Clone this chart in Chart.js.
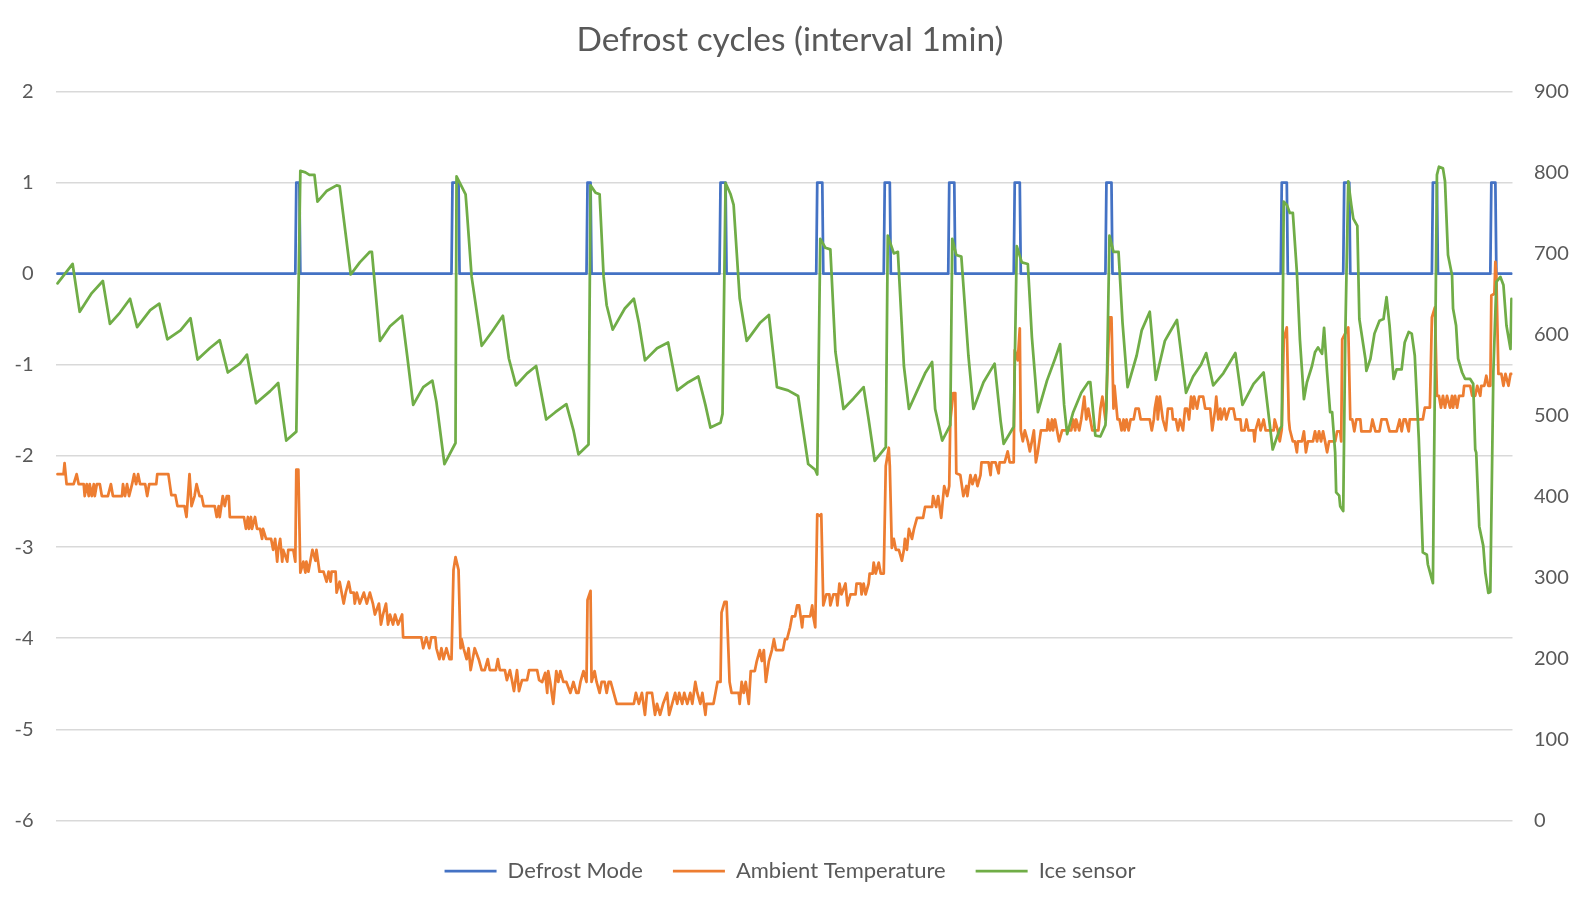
<!DOCTYPE html>
<html>
<head>
<meta charset="utf-8">
<title>Defrost cycles</title>
<script src="https://cdn.jsdelivr.net/npm/chart.js@4.4.0/dist/chart.umd.min.js"></script>
<style>
  html, body { margin: 0; padding: 0; background: #fff; }
  #wrap { width: 1580px; height: 906px; }
</style>
</head>
<body>
<div id="wrap"><canvas id="chart" width="1580" height="906"></canvas></div>
<script>
// minutes since start of the log
const defrostMin = [0, 236, 237, 240, 241, 391, 392, 398, 399, 525, 526, 529, 530, 657, 658, 663, 664,
  753, 754, 759, 760, 820, 821, 826, 827, 884, 885, 890, 891, 949, 950, 955, 956, 1040, 1041, 1046, 1047,
  1214, 1215, 1220, 1221, 1276, 1277, 1282, 1283, 1364, 1365, 1369, 1370, 1422, 1423, 1427, 1428, 1443];
const defrostMode = [0, 0, 1, 1, 0, 0, 1, 1, 0, 0, 1, 1, 0, 0, 1, 1, 0,
  0, 1, 1, 0, 0, 1, 1, 0, 0, 1, 1, 0, 0, 1, 1, 0, 0, 1, 1, 0,
  0, 1, 1, 0, 0, 1, 1, 0, 0, 1, 1, 0, 0, 1, 1, 0, 0];

const ambientMin = [0, 6, 7, 9, 16, 19, 21, 26, 27, 29, 31, 32, 34, 36, 37, 39, 42, 44, 50, 53, 55, 64, 65, 67, 69, 71, 74, 76, 78, 80,
  82, 87, 89, 91, 98, 99, 110, 113, 117, 119, 126, 128, 131, 133, 136, 138, 141, 143, 145, 156, 158, 160, 161, 164, 166, 168, 170, 171, 185, 187,
  189, 190, 192, 193, 196, 198, 201, 203, 204, 207, 212, 214, 216, 218, 219, 221, 223, 224, 228, 229, 234, 236, 237, 239, 241, 244, 246, 247, 249, 251,
  253, 256, 257, 260, 264, 267, 269, 271, 272, 276, 277, 280, 282, 284, 286, 289, 291, 294, 295, 297, 300, 304, 307, 310, 313, 315, 319, 321, 323, 326,
  328, 330, 333, 335, 338, 342, 343, 361, 363, 366, 369, 371, 375, 376, 379, 381, 383, 386, 389, 391, 393, 395, 398, 400, 401, 403, 406, 408, 410, 412,
  414, 418, 421, 424, 427, 429, 435, 437, 439, 444, 446, 449, 451, 453, 456, 458, 461, 466, 468, 476, 478,
  481, 484, 486, 487, 489, 492, 495, 497, 499, 502, 505, 509, 512, 515, 517, 519, 522, 525, 526, 529, 530, 533, 535, 538, 540, 543, 545, 547, 549, 552,
  555, 572, 574, 577, 580, 583, 585, 590, 593, 595, 598, 601, 605, 607, 610, 613, 615, 617, 620, 622, 625, 628, 630, 633, 635, 638, 640, 643, 644, 651,
  653, 655, 658, 659, 662, 664, 667, 669, 676, 677, 679, 681, 683, 686, 688, 692, 694, 697, 699, 701, 703, 706, 709, 711, 713, 716, 720, 722, 724, 727,
  729, 732, 734, 736, 739, 740, 747, 749, 750, 752, 754, 757, 758, 760, 763, 766, 767, 770, 773, 774, 776, 778, 782, 784, 787, 792, 793, 797, 798, 800,
  802, 805, 806, 809, 810, 812, 815, 817, 820, 822, 825, 826, 828, 830, 832, 835, 838, 840, 841, 843, 845, 848, 850, 853, 859, 861, 868, 869, 872, 874,
  877, 879, 880, 883, 885, 886, 889, 891, 892, 896, 899, 902, 903, 906, 908, 911, 913, 916, 917, 924, 926, 927, 931, 934, 935, 940, 943, 945, 949, 950,
  953, 955, 956, 958, 960, 963, 965, 967, 969, 971, 973, 976,
  978, 982, 983, 985, 987, 988, 990, 992, 994, 997, 1006, 1008, 1010, 1011, 1014, 1016, 1019, 1021, 1023, 1025, 1027, 1033, 1035, 1037, 1040, 1041, 1044, 1046, 1048, 1049,
  1052, 1054, 1056, 1058, 1059, 1061, 1063, 1065, 1068, 1070, 1073, 1075, 1084, 1086, 1088, 1089, 1091, 1092, 1094, 1097, 1100, 1102, 1106, 1107, 1110, 1112, 1114, 1117, 1119, 1121,
  1123, 1125, 1127, 1128, 1131, 1133, 1137, 1139, 1144, 1146, 1149, 1150, 1152, 1154, 1155, 1158, 1160, 1163, 1167, 1169, 1174, 1175, 1178, 1180, 1182, 1187, 1188, 1189, 1192, 1194,
  1197, 1199, 1207, 1208, 1211, 1213,
  1215, 1217, 1220, 1222, 1223, 1226, 1228, 1230, 1231, 1235, 1237, 1239, 1241, 1246, 1248, 1250, 1252, 1254, 1256, 1258, 1260, 1262, 1268, 1270, 1273, 1274, 1275, 1281, 1283, 1285,
  1287, 1289, 1293, 1294, 1303, 1305, 1308, 1312, 1314, 1319, 1322, 1329, 1332, 1334, 1336, 1338, 1341, 1342, 1355, 1357, 1362, 1364, 1367, 1369, 1371, 1373, 1375, 1377, 1379, 1382,
  1384, 1385, 1387, 1389, 1391, 1395, 1396, 1402, 1404, 1407, 1409, 1412, 1413, 1416, 1418, 1420, 1422, 1423, 1426, 1427, 1428, 1430, 1433, 1435, 1437, 1440, 1442, 1443];
const ambientTemp = [-2.2, -2.2, -2.08, -2.31, -2.31, -2.2, -2.31, -2.31, -2.44, -2.31, -2.44, -2.31, -2.44, -2.31, -2.44, -2.31, -2.31, -2.44, -2.44, -2.31, -2.44, -2.44, -2.31, -2.44, -2.31, -2.44, -2.31, -2.2, -2.31, -2.2,
  -2.31, -2.31, -2.44, -2.31, -2.31, -2.2, -2.2, -2.43, -2.43, -2.55, -2.55, -2.67, -2.2, -2.55, -2.44, -2.31, -2.44, -2.44, -2.55, -2.55, -2.67, -2.55, -2.67, -2.44, -2.55, -2.44, -2.44, -2.67, -2.67, -2.8,
  -2.67, -2.8, -2.67, -2.8, -2.67, -2.8, -2.8, -2.91, -2.8, -2.91, -2.91, -3.03, -2.91, -3.16, -3.03, -2.91, -3.16, -3.03, -3.16, -3.03, -3.03, -3.16, -2.15, -2.15, -3.28, -3.16, -3.28, -3.16, -3.27, -3.15,
  -3.03, -3.15, -3.03, -3.27, -3.27, -3.38, -3.27, -3.38, -3.27, -3.27, -3.5, -3.38, -3.5, -3.62, -3.5, -3.38, -3.5, -3.5, -3.62, -3.5, -3.62, -3.5, -3.62, -3.5, -3.62, -3.74, -3.62, -3.85, -3.74, -3.62,
  -3.85, -3.74, -3.85, -3.74, -3.85, -3.74, -3.99, -3.99, -4.11, -3.99, -4.11, -3.99, -3.99, -4.11, -4.23, -4.11, -4.23, -4.11, -4.23, -4.23, -3.25, -3.11, -3.25, -4.11, -4.01, -4.11, -4.23, -4.11, -4.35, -4.23,
  -4.11, -4.23, -4.35, -4.35, -4.23, -4.35, -4.35, -4.23, -4.35, -4.35, -4.46, -4.35, -4.46, -4.58, -4.35, -4.58, -4.46, -4.46, -4.35, -4.35, -4.46,
  -4.48, -4.38, -4.6, -4.36, -4.48, -4.72, -4.36, -4.48, -4.36, -4.48, -4.48, -4.6, -4.48, -4.6, -4.6, -4.48, -4.36, -4.48, -3.58, -3.48, -4.48, -4.36, -4.48, -4.6, -4.48, -4.48, -4.6, -4.48, -4.48, -4.6,
  -4.72, -4.72, -4.6, -4.72, -4.6, -4.84, -4.6, -4.6, -4.84, -4.72, -4.84, -4.72, -4.6, -4.84, -4.72, -4.6, -4.72, -4.6, -4.72, -4.6, -4.72, -4.6, -4.72, -4.48, -4.6, -4.72, -4.6, -4.84, -4.72, -4.72,
  -4.6, -4.48, -4.48, -3.72, -3.6, -3.6, -4.48, -4.6, -4.6, -4.72, -4.48, -4.6, -4.48, -4.72, -4.36, -4.36, -4.25, -4.13, -4.25, -4.13, -4.48, -4.25, -4.13, -4.01, -4.13, -4.13, -4.13, -4.01, -4.01, -3.88,
  -3.76, -3.76, -3.64, -3.64, -3.88, -3.76, -3.76, -3.64, -3.76, -3.88, -2.64, -2.66, -2.64, -3.64, -3.52, -3.52, -3.64, -3.52, -3.52, -3.64, -3.4, -3.52, -3.4, -3.64, -3.52, -3.52, -3.4, -3.4, -3.52, -3.4,
  -3.52, -3.4, -3.29, -3.29, -3.17, -3.29, -3.17, -3.29, -3.29, -2.11, -1.91, -2.11, -3.01, -2.91, -3.03, -3.03, -3.15, -3.03, -2.91, -3.03, -2.8, -2.91, -2.8, -2.68, -2.68, -2.56, -2.56, -2.44, -2.56, -2.44,
  -2.68, -2.44, -2.33, -2.44, -2.33, -1.62, -1.31, -1.31, -2.19, -2.21, -2.44, -2.33, -2.44, -2.21, -2.31, -2.21, -2.33, -2.21, -2.07, -2.07, -2.21, -2.07, -2.07, -2.19, -2.07, -2.07, -1.95, -2.07, -2.07, -0.84,
  -0.95, -0.6, -1.72, -1.84, -1.72, -1.84, -1.95, -1.84, -1.72, -2.07, -1.95, -1.72,
  -1.72, -1.72, -1.6, -1.72, -1.6, -1.72, -1.6, -1.72, -1.84, -1.72, -1.72, -1.6, -1.72, -1.6, -1.72, -1.6, -1.35, -1.6, -1.48, -1.6, -1.72, -1.72, -1.48, -1.35, -1.6, -1.35, -0.48, -0.48, -1.48, -1.23,
  -1.6, -1.6, -1.72, -1.6, -1.72, -1.6, -1.72, -1.6, -1.6, -1.48, -1.48, -1.6, -1.6, -1.72, -1.6, -1.48, -1.35, -1.6, -1.35, -1.6, -1.72, -1.48, -1.48, -1.6, -1.6, -1.72, -1.6, -1.72, -1.48, -1.48,
  -1.6, -1.35, -1.48, -1.35, -1.48, -1.35, -1.35, -1.48, -1.48, -1.72, -1.48, -1.35, -1.6, -1.48, -1.6, -1.48, -1.6, -1.48, -1.48, -1.6, -1.6, -1.72, -1.72, -1.6, -1.72, -1.72, -1.84, -1.72, -1.6, -1.72,
  -1.6, -1.72, -1.72, -1.6, -1.72, -1.84,
  -1.71, -0.72, -0.59, -1.6, -1.71, -1.84, -1.84, -1.96, -1.84, -1.84, -1.73, -1.96, -1.84, -1.84, -1.73, -1.84, -1.73, -1.84, -1.73, -1.84, -1.96, -1.84, -1.84, -1.73, -1.73, -1.84, -0.72, -0.59, -1.6, -1.6,
  -1.73, -1.6, -1.6, -1.73, -1.73, -1.6, -1.73, -1.73, -1.6, -1.6, -1.73, -1.73, -1.6, -1.73, -1.6, -1.6, -1.73, -1.6, -1.6, -1.47, -1.47, -0.48, -0.37, -1.34, -1.34, -1.47, -1.34, -1.47, -1.34, -1.47,
  -1.34, -1.47, -1.34, -1.47, -1.34, -1.34, -1.23, -1.23, -1.34, -1.34, -1.23, -1.34, -1.23, -1.23, -1.12, -1.23, -1.23, -0.24, -0.22, 0.13, -0.02, -1.1, -1.1, -1.23, -1.1, -1.23, -1.1, -1.1];

const iceMin = [0, 15, 22, 34, 45, 52, 62, 72, 79, 92, 101, 109, 122, 132, 139, 151, 161, 169, 181, 188, 197, 211, 219, 227, 237, 241, 246, 250, 255, 258,
  267, 277, 280, 291, 300, 310, 312, 320, 330, 342, 347, 353, 363, 372, 376, 384, 395, 396, 405, 406, 411, 421, 431, 442, 448, 455, 466, 475, 485, 494,
  505, 512, 517, 527, 529, 534, 538, 542, 545, 551, 563, 572, 577, 583, 595, 606, 615, 626, 636, 643, 648, 658, 660, 663, 668, 671, 677, 681, 684, 697,
  706, 714, 725, 735, 740, 745, 752, 754, 757, 762, 767, 772, 780, 790, 800, 805, 811, 822, 824, 830, 834, 840, 845, 853, 861, 868, 871, 878, 886, 888,
  892, 897, 904, 909, 919, 930, 936, 939, 949, 952, 957, 963, 967, 973, 982, 990, 995, 999, 1002, 1008, 1016, 1023, 1025, 1030, 1035, 1040, 1041, 1044, 1048, 1053,
  1057, 1062, 1071, 1076, 1084, 1090, 1099, 1104, 1111, 1120, 1127, 1135, 1140, 1147, 1157, 1169, 1176, 1187, 1197, 1206, 1213, 1215, 1217, 1220, 1223, 1226, 1230, 1233, 1237, 1240,
  1245, 1248, 1251, 1255, 1257, 1260, 1263, 1265, 1268, 1269, 1272, 1273, 1276, 1278, 1281, 1284, 1286, 1290, 1292, 1298, 1299, 1303, 1307, 1312, 1316, 1319, 1322, 1326, 1329, 1334,
  1337, 1341, 1344, 1347, 1351, 1355, 1359, 1360, 1365, 1369, 1371, 1375, 1377, 1380, 1384, 1385, 1388, 1390, 1394, 1397, 1402, 1405, 1407, 1408, 1411, 1415, 1417, 1420, 1422, 1425,
  1428, 1432, 1435, 1438, 1442, 1443];
const iceSensor = [663, 687, 628, 651, 666, 613, 627, 644, 609, 630, 638, 594, 605, 620, 569, 583, 593, 553, 564, 575, 515, 530, 540, 469, 480, 802, 800, 797, 797, 764,
  777, 784, 783, 674, 689, 702, 702, 592, 610, 623, 574, 513, 535, 543, 517, 440, 466, 795, 773, 757, 671, 586, 603, 623, 570, 537, 552, 561, 495, 504,
  514, 482, 452, 464, 784, 775, 773, 671, 636, 606, 632, 644, 614, 568, 583, 590, 531, 541, 548, 513, 485, 491, 502, 787, 773, 760, 645, 614, 592, 614,
  624, 535, 531, 524, 482, 440, 433, 427, 718, 707, 705, 579, 508, 521, 535, 495, 444, 461, 722, 700, 702, 561, 508, 530, 552, 566, 508, 469, 488, 718,
  698, 696, 574, 508, 541, 564, 493, 465, 486, 709, 689, 687, 597, 504, 543, 570, 588, 513, 477, 504, 528, 541, 541, 475, 474, 488, 508, 722, 702, 702,
  614, 535, 574, 605, 628, 544, 592, 603, 618, 528, 548, 563, 577, 537, 552, 577, 513, 539, 553, 458, 483, 487, 764, 760, 750, 750, 677, 594, 520, 541,
  561, 578, 584, 576, 608, 553, 504, 504, 454, 405, 401, 388, 382, 594, 789, 760, 743, 734, 619, 570, 555, 570, 601, 617, 619, 646, 611, 545, 557, 557,
  590, 603, 601, 574, 471, 331, 328, 316, 293, 797, 807, 805, 789, 698, 673, 632, 611, 570, 553, 545, 545, 539, 458, 454, 363, 339, 306, 281, 282, 553,
  665, 671, 661, 611, 582, 644];

const tickLabelFont = { family: 'Lato', size: 20 };
const legendFont = { family: 'Lato', size: 22 };
const textGrey = '#595959';

const points = (xs, ys) => xs.map((x, i) => ({ x, y: ys[i] }));

const lineStyle = {
  borderWidth: 2.75,
  pointRadius: 0,
  tension: 0,
  borderJoinStyle: 'round',
  borderCapStyle: 'round',
  fill: false
};

new Chart(document.getElementById('chart'), {
  type: 'line',
  data: {
    datasets: [
      { ...lineStyle, label: 'Defrost Mode', data: points(defrostMin, defrostMode),
        borderColor: '#4472C4', backgroundColor: '#4472C4', yAxisID: 'y', order: 3 },
      { ...lineStyle, label: 'Ambient Temperature', data: points(ambientMin, ambientTemp),
        borderColor: '#ED7D31', backgroundColor: '#ED7D31', yAxisID: 'y', order: 2 },
      { ...lineStyle, label: 'Ice sensor', data: points(iceMin, iceSensor),
        borderColor: '#70AD47', backgroundColor: '#70AD47', yAxisID: 'y1', order: 1 }
    ]
  },
  options: {
    responsive: false,
    animation: false,
    events: [],
    layout: { padding: { left: 0, right: 0, top: 0, bottom: 14 } },
    plugins: {
      title: {
        display: true,
        text: 'Defrost cycles (interval 1min)',
        color: textGrey,
        font: { family: 'Lato', size: 33.5, weight: 'normal' },
        padding: { top: 20, bottom: 31.2 }
      },
      legend: {
        position: 'bottom',
        labels: {
          usePointStyle: true,
          pointStyle: 'line',
          pointStyleWidth: 52,
          color: textGrey,
          font: legendFont,
          padding: 30,
          sort: (a, b) => a.datasetIndex - b.datasetIndex
        }
      },
      tooltip: { enabled: false }
    },
    scales: {
      // hidden time axis; its box only keeps a small gap above the legend
      x: {
        type: 'linear', min: -2, max: 1444,
        ticks: { display: false },
        grid: { display: false },
        border: { display: false },
        afterFit: (scale) => { scale.height = 9.5; }
      },
      y: {
        position: 'left',
        min: -6, max: 2,
        ticks: { stepSize: 1, color: textGrey, font: tickLabelFont, padding: 22 },
        grid: { color: '#d9d9d9', lineWidth: 1.5, drawTicks: false },
        border: { display: false },
        afterFit: (scale) => { scale.width = 55.5; }
      },
      y1: {
        position: 'right',
        min: 0, max: 900,
        ticks: { stepSize: 100, color: textGrey, font: tickLabelFont, padding: 21.5 },
        grid: { drawOnChartArea: false, drawTicks: false },
        border: { display: false },
        afterFit: (scale) => { scale.width = 67.5; }
      }
    }
  }
});
</script>
</body>
</html>
